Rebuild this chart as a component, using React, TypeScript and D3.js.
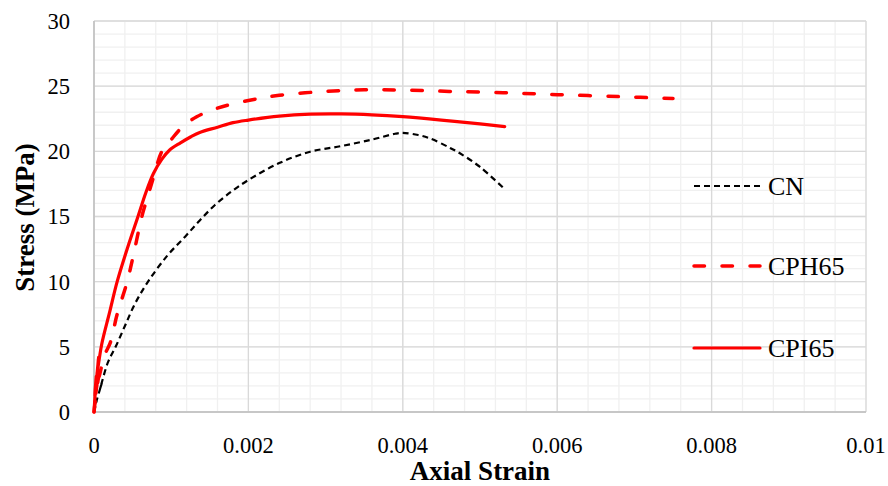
import React from "react";
import * as d3 from "d3";

const cnStrain = [0, 0.00004, 0.00002, 0.0001, 0.00008, 0.00018, 0.00028, 0.0004, 0.00053, 0.0007, 0.00095, 0.00118, 0.00137, 0.00157, 0.0018, 0.002, 0.0024, 0.0028, 0.0032, 0.0036, 0.0039, 0.004, 0.0042, 0.00435, 0.0046, 0.00474, 0.005, 0.00532];
const cnStress = [0, 1.0, 0.6, 2.2, 1.8, 3.8, 5.0, 6.6, 8.3, 10.0, 12.0, 13.45, 14.7, 15.9, 17.0, 17.8, 19.1, 19.97, 20.4, 20.9, 21.35, 21.42, 21.25, 21.0, 20.3, 19.85, 18.8, 17.1];

const cphStrain = [0, 0.00004, 0.00002, 0.00008, 0.00006, 0.00014, 0.00021, 0.0003, 0.00043, 0.00052, 0.00062, 0.0007, 0.00077, 0.00088, 0.001, 0.00115, 0.00133, 0.00159, 0.002, 0.0024, 0.003, 0.0035, 0.004, 0.0046, 0.0053, 0.006, 0.0068, 0.0075];
const cphStress = [0, 2.2, 1.2, 3.5, 2.6, 4.4, 5.3, 7.5, 10.0, 12.3, 15.0, 16.6, 18.0, 20.0, 20.9, 21.9, 22.65, 23.3, 23.9, 24.3, 24.6, 24.72, 24.7, 24.6, 24.5, 24.35, 24.2, 24.05];

const cpiStrain = [0, 0.00003, 0.00001, 0.00006, 0.00004, 0.0001, 0.0002, 0.0003, 0.00044, 0.00057, 0.00067, 0.00077, 0.00088, 0.00098, 0.00112, 0.00125, 0.00137, 0.0016, 0.0018, 0.002, 0.0024, 0.0028, 0.0032, 0.0036, 0.004, 0.0045, 0.005, 0.00532];
const cpiStress = [0, 2.8, 1.2, 4.2, 3.0, 5.2, 7.6, 10.0, 12.7, 15.0, 16.8, 18.3, 19.4, 20.1, 20.65, 21.1, 21.45, 21.85, 22.2, 22.4, 22.7, 22.85, 22.87, 22.8, 22.66, 22.4, 22.1, 21.9];

const xTicks = [0, 0.002, 0.004, 0.006, 0.008, 0.01];
const xTickLabels = ["0", "0.002", "0.004", "0.006", "0.008", "0.01"];
const yTicks = [0, 5, 10, 15, 20, 25, 30];
const seriesNames = ["CN", "CPH65", "CPI65"];

const W = 888, H = 486;
const left = 94, right = 866, top = 21, bottom = 412;
const FONT = "Liberation Serif, DejaVu Serif, serif";

export default function App() {
  const x = d3.scaleLinear().domain([0, 0.01]).range([left, right]);
  const y = d3.scaleLinear().domain([0, 30]).range([bottom, top]);
  const line = d3.line<[number, number]>().x(d => x(d[0])).y(d => y(d[1])).curve(d3.curveCatmullRom.alpha(0.5));

  const mk = (a: number[], b: number[]) => a.map((v, i) => [v, b[i]] as [number, number]);
  const series = [
    { name: seriesNames[0], pts: mk(cnStrain, cnStress), color: "#000000", width: 2.2, dash: "6,4", cap: "butt" },
    { name: seriesNames[1], pts: mk(cphStrain, cphStress), color: "#ff0000", width: 3.5, dash: "10.5,17.5", cap: "round" },
    { name: seriesNames[2], pts: mk(cpiStrain, cpiStress), color: "#ff0000", width: 3.2, dash: "none", cap: "round" },
  ];

  const xMinor = d3.range(0, 0.01 + 1e-9, 0.0004);
  const yMinor = d3.range(0, 30.001, 1);
  const legendY = [186, 266, 348];
  const txt = { fontFamily: FONT, fill: "#000" } as React.CSSProperties;

  return (
    <svg width={W} height={H} style={{ position: "absolute", left: 0, top: 0, background: "#fff" }}>
      <rect x={0} y={0} width={W} height={H} fill="#fff" />
      {xMinor.map((v, i) => (
        <line key={"xm" + i} x1={x(v)} x2={x(v)} y1={top} y2={bottom} stroke="#f0f0f0" strokeWidth={1.3} />
      ))}
      {yMinor.map((v, i) => (
        <line key={"ym" + i} x1={left} x2={right} y1={y(v)} y2={y(v)} stroke="#f0f0f0" strokeWidth={1.3} />
      ))}
      {xTicks.map((v, i) => (
        <line key={"xM" + i} x1={x(v)} x2={x(v)} y1={top} y2={bottom} stroke="#d9d9d9" strokeWidth={1.3} />
      ))}
      {yTicks.map((v, i) => (
        <line key={"yM" + i} x1={left} x2={right} y1={y(v)} y2={y(v)} stroke="#d9d9d9" strokeWidth={1.3} />
      ))}
      <line x1={left} x2={left} y1={top} y2={bottom} stroke="#bfbfbf" strokeWidth={1.5} />
      <line x1={left} x2={right} y1={bottom} y2={bottom} stroke="#bfbfbf" strokeWidth={1.5} />

      {yTicks.map((v, i) => (
        <text key={"yl" + i} x={70} y={y(v)} dy="0.35em" textAnchor="end" style={{ ...txt, fontSize: "22.5px" }}>{v}</text>
      ))}
      {xTicks.map((v, i) => (
        <text key={"xl" + i} x={x(v)} y={453} textAnchor="middle" style={{ ...txt, fontSize: "22.5px" }}>{xTickLabels[i]}</text>
      ))}
      <text x={480} y={480} textAnchor="middle" style={{ ...txt, fontSize: "27px", fontWeight: "bold" }}>Axial Strain</text>
      <text transform={`translate(34,${(top + bottom) / 2 + 1}) rotate(-90)`} textAnchor="middle" style={{ ...txt, fontSize: "27px", fontWeight: "bold" }}>Stress (MPa)</text>

      {series.map(s => (
        <path key={s.name} d={line(s.pts) || ""} fill="none" stroke={s.color} strokeWidth={s.width}
          strokeDasharray={s.dash} strokeLinecap={s.cap as any} strokeLinejoin="round" />
      ))}

      {series.map((s, i) => (
        <g key={"lg" + i}>
          <line x1={694} x2={760} y1={legendY[i]} y2={legendY[i]} stroke={s.color} strokeWidth={s.width}
            strokeDasharray={s.dash} strokeLinecap={s.cap as any} />
          <text x={768} y={legendY[i]} dy="0.35em" style={{ ...txt, fontSize: "26px" }}>{s.name}</text>
        </g>
      ))}
    </svg>
  );
}
